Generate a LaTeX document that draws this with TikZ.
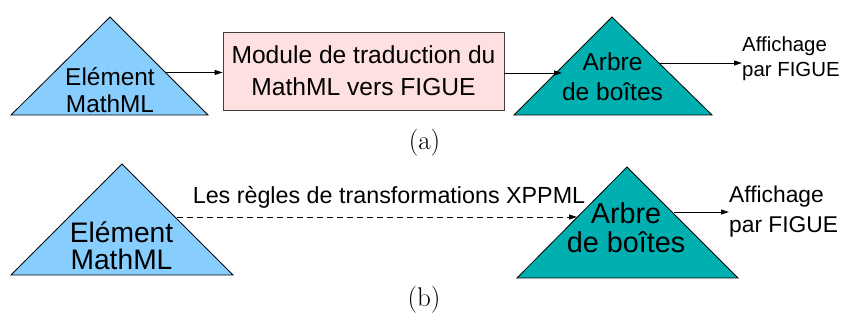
\documentclass[tikz,border=0pt]{standalone}
\usepackage{fontspec}
\newfontfamily\sans{Liberation Sans}
\usetikzlibrary{arrows.meta}
\definecolor{ltblue}{RGB}{135,206,255}
\definecolor{teal3}{RGB}{0,176,176}
\definecolor{pinkbox}{RGB}{255,224,224}
\tikzset{
  tri/.style={draw=black, line width=0.8pt, line join=miter},
  flow/.style={draw=black, line width=0.9pt, -{Triangle[length=8pt,width=5pt]}},
  rule/.style={flow, dash pattern=on 6pt off 4pt},
  lbl/.style={inner sep=0pt, align=center},
  subcap/.style={inner sep=0pt},
}
\newcommand{\fs}[2]{\fontsize{#1}{#2}\selectfont}
\begin{document}
\begin{tikzpicture}[x=1pt,y=-1pt]
\useasboundingbox (0,0) rectangle (841,320);

% ---------------- (a) : translation module ----------------
\coordinate (a1-l) at (11,115);
\coordinate (a1-t) at (110,17);
\coordinate (a1-r) at (208,115);
\fill[ltblue] (a1-l) -- (a1-t) -- (a1-r) -- cycle;
\draw[tri] (a1-l) -- (a1-t) -- (a1-r) -- cycle;
\node[lbl, font=\sans\fs{24.4}{27}] (a1-txt) at (110,90) {Elément\\MathML};
\coordinate (a1-out) at (166,72.5);

\node[draw=black!75, line width=0.8pt, fill=pinkbox, minimum width=281pt,
      minimum height=78pt, inner sep=0pt] (mod) at (363.5,71) {};
\node[lbl, font=\sans\fs{24.6}{32}] (mod-txt) at (mod.center) {Module de traduction du\\MathML vers FIGUE};

\coordinate (a2-l) at (514,115);
\coordinate (a2-t) at (612,17);
\coordinate (a2-r) at (712,115);
\fill[teal3] (a2-l) -- (a2-t) -- (a2-r) -- cycle;
\draw[tri] (a2-l) -- (a2-t) -- (a2-r) -- cycle;
\node[lbl, font=\sans\fs{24.5}{30}] (a2-txt) at (612.5,77) {Arbre\\de boîtes};
\coordinate (a2-in) at (562,73);
\coordinate (a2-out) at (660,63);

\node[lbl, anchor=west, align=left, font=\sans\fs{20.4}{25}] (a-disp) at (742,59) {Affichage\\par FIGUE};

\draw[flow] (a1-out) -- (mod.west |- a1-out);
\draw[flow] (mod.east |- a2-in) -- (a2-in);
\draw[flow] (a2-out) -- (a-disp.west |- a2-out);

\node[subcap, font=\fs{27}{30}] (cap-a) at (424.5,143) {(a)};

% ---------------- (b) : XPPML rules ----------------
\coordinate (b1-l) at (11,275);
\coordinate (b1-t) at (122,164);
\coordinate (b1-r) at (233,275);
\fill[ltblue] (b1-l) -- (b1-t) -- (b1-r) -- cycle;
\draw[tri] (b1-l) -- (b1-t) -- (b1-r) -- cycle;
\node[lbl, font=\sans\fs{28.2}{27}] (b1-txt) at (121.5,245.5) {Elément\\MathML};
\coordinate (b1-out) at (177,217);

\coordinate (b2-l) at (517,278);
\coordinate (b2-t) at (627,167);
\coordinate (b2-r) at (738,278);
\fill[teal3] (b2-l) -- (b2-t) -- (b2-r) -- cycle;
\draw[tri] (b2-l) -- (b2-t) -- (b2-r) -- cycle;
\node[lbl, font=\sans\fs{28.8}{29}] (b2-txt) at (626,228) {Arbre\\de boîtes};
\coordinate (b2-in) at (577,217);
\coordinate (b2-out) at (674,212);

\node[lbl, anchor=west, align=left, font=\sans\fs{22.8}{30}] (b-disp) at (729,212) {Affichage\\par FIGUE};

\draw[rule] (b1-out) -- (b2-in)
  node[pos=0.53, above=8pt, inner sep=0pt, font=\sans\fs{23.3}{27}] (rules) {Les règles de transformations XPPML};
\draw[flow] (b2-out) -- (b-disp.west |- b2-out);

\node[subcap, font=\fs{27}{30}] (cap-b) at (424,300) {(b)};
\end{tikzpicture}
\end{document}
